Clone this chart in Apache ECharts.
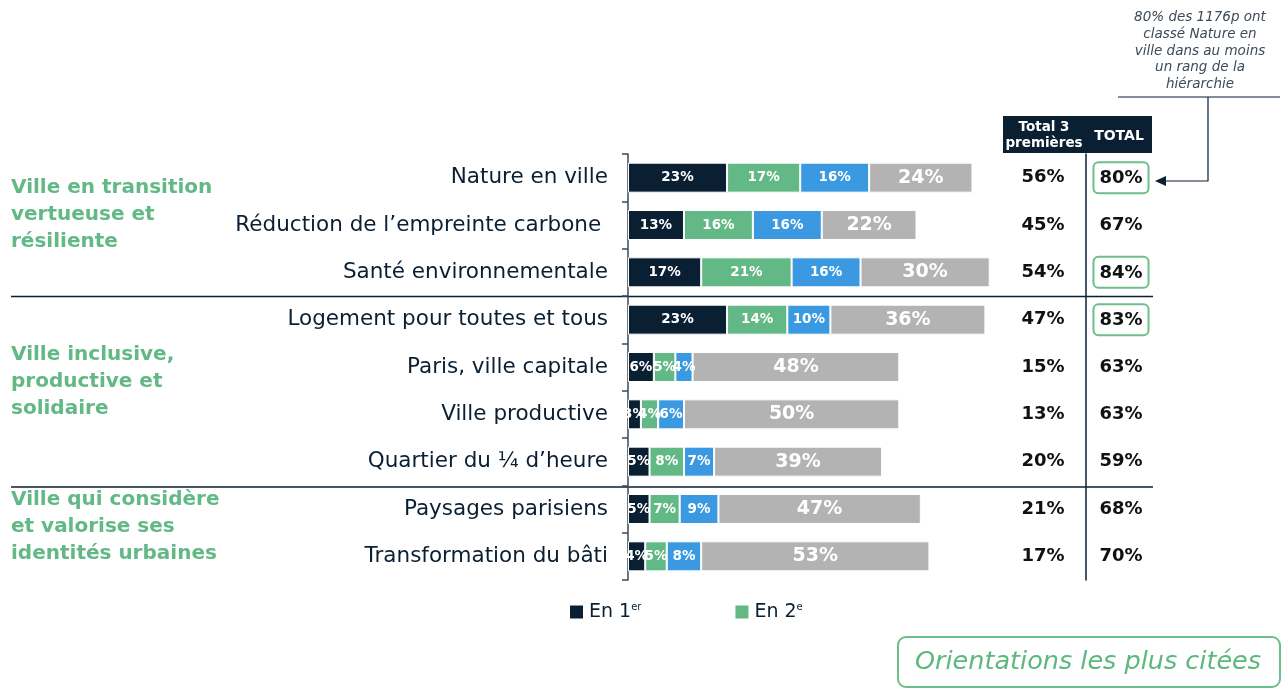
<!DOCTYPE html>
<html>
<head>
<meta charset="UTF-8">
<title>Orientations les plus citées</title>
<script src="https://cdn.jsdelivr.net/npm/echarts@6/dist/echarts.min.js"></script>
<style>
  html, body { margin: 0; padding: 0; background: #fff; }
  #main { width: 1283px; height: 690px; }
</style>
</head>
<body>
<div id="main"></div>
<script type="text/javascript">
// données
var categories = ['Nature en ville', 'Réduction de l’empreinte carbone ', 'Santé environnementale',
  'Logement pour toutes et tous', 'Paris, ville capitale', 'Ville productive',
  'Quartier du ¼ d’heure', 'Paysages parisiens', 'Transformation du bâti'];
var en1 = [23, 13, 17, 23, 6, 3, 5, 5, 4];
var en2 = [17, 16, 21, 14, 5, 4, 8, 7, 5];
var en3 = [16, 16, 16, 10, 4, 6, 7, 9, 8];
var autreRang = [24, 22, 30, 36, 48, 50, 39, 47, 53];
var total3 = [56, 45, 54, 47, 15, 13, 20, 21, 17];
var totalAll = [80, 67, 84, 83, 63, 63, 59, 68, 70];
var groupes = ['Ville en transition\nvertueuse et\nrésiliente', 'Ville inclusive,\nproductive et\nsolidaire', 'Ville qui considère\net valorise ses\nidentités urbaines'];

var NAVY = '#0b1f33', GREEN = '#62b985', BLUE = '#3a99e0', GREY = '#b3b3b3';
var FONT = 'DejaVu Sans';

var myChart = echarts.init(document.getElementById('main'));

function segLabel(size) {
  return {
    show: true, position: 'inside', formatter: '{c}%',
    color: '#fff', fontWeight: 'bold', fontSize: size, fontFamily: FONT
  };
}

var option = {
  animation: false,
  textStyle: { fontFamily: FONT },
  grid: { left: 628, top: 154, width: 366, height: 426 },
  legend: {
    data: ['En 1er', 'En 2e'],
    left: 563, top: 597,
    itemWidth: 15, itemHeight: 15, itemGap: 92,
    icon: 'rect',
    formatter: function (name) {
      return name === 'En 1er' ? '{t|En 1}{s|er}' : '{t|En 2}{s|e}';
    },
    textStyle: {
      rich: {
        t: { fontSize: 19, color: NAVY, fontFamily: FONT },
        s: { fontSize: 10, color: NAVY, fontFamily: FONT, verticalAlign: 'top', padding: [0, 0, 10, 0] }
      }
    }
  },
  xAxis: { type: 'value', min: 0, max: 85, show: false },
  yAxis: [
    {
      type: 'category', data: categories, inverse: true,
      axisLine: { show: true, lineStyle: { color: '#3c4a5a', width: 1.5 } },
      axisTick: { show: true, length: 6, lineStyle: { color: '#3c4a5a', width: 1.5 } },
      axisLabel: { margin: 20, fontSize: 21.5, color: NAVY, fontFamily: FONT }
    },
    {
      type: 'category', data: categories, inverse: true, position: 'right',
      axisLine: { show: false }, axisTick: { show: false },
      axisLabel: {
        margin: 49, align: 'center', fontSize: 18, fontWeight: 'bold', color: '#111', fontFamily: FONT,
        formatter: function (v, i) { return total3[i] + '%'; }
      }
    },
    {
      type: 'category', data: categories, inverse: true, position: 'right',
      axisLine: { show: false }, axisTick: { show: false },
      axisLabel: {
        margin: 127, align: 'center',
        formatter: function (v, i) {
          return totalAll[i] >= 80 ? '{box|' + totalAll[i] + '%}' : '{n|' + totalAll[i] + '%}';
        },
        rich: {
          n: { fontSize: 18, fontWeight: 'bold', color: '#111', fontFamily: FONT },
          box: {
            fontSize: 18, fontWeight: 'bold', color: '#111', fontFamily: FONT,
            borderColor: '#6cbf88', borderWidth: 2, borderRadius: 5,
            padding: [7, 6, 6, 6]
          }
        }
      }
    },
    {
      type: 'category', data: categories, inverse: true, position: 'right', offset: 92,
      axisLine: { show: true, lineStyle: { color: NAVY, width: 1.5 } },
      axisTick: { show: false }, axisLabel: { show: false }
    }
  ],
  series: [
    { name: 'En 1er', type: 'bar', stack: 'rang', barWidth: 30, data: en1,
      itemStyle: { color: NAVY, borderColor: '#fff', borderWidth: 1 }, label: segLabel(13.5) },
    { name: 'En 2e', type: 'bar', stack: 'rang', data: en2,
      itemStyle: { color: GREEN, borderColor: '#fff', borderWidth: 1 }, label: segLabel(13.5) },
    { name: 'En 3e', type: 'bar', stack: 'rang', data: en3,
      itemStyle: { color: BLUE, borderColor: '#fff', borderWidth: 1 }, label: segLabel(13.5) },
    { name: 'Autre rang', type: 'bar', stack: 'rang', data: autreRang,
      itemStyle: { color: GREY, borderColor: '#fff', borderWidth: 1 }, label: segLabel(19) }
  ],
  graphic: [
    // en-tête des colonnes
    { type: 'rect', shape: { x: 1003, y: 116, width: 149, height: 37 }, style: { fill: NAVY } },
    { type: 'text', x: 1044, y: 135, style: { text: 'Total 3\npremières', fill: '#fff', font: 'bold 13.5px "DejaVu Sans"',
        align: 'center', verticalAlign: 'middle', lineHeight: 16 } },
    { type: 'text', x: 1119, y: 136, style: { text: 'TOTAL', fill: '#fff', font: 'bold 14px "DejaVu Sans"',
        align: 'center', verticalAlign: 'middle' } },
    // séparateurs de groupes
    { type: 'line', shape: { x1: 11, y1: 296.5, x2: 1153, y2: 296.5 }, style: { stroke: NAVY, lineWidth: 1.5 } },
    { type: 'line', shape: { x1: 11, y1: 487, x2: 1153, y2: 487 }, style: { stroke: NAVY, lineWidth: 1.5 } },
    // groupes
    { type: 'text', left: 11, top: 174, style: { text: groupes[0], fill: GREEN, font: 'bold 20px "DejaVu Sans"', lineHeight: 27 } },
    { type: 'text', left: 11, top: 341, style: { text: groupes[1], fill: GREEN, font: 'bold 20px "DejaVu Sans"', lineHeight: 27 } },
    { type: 'text', left: 11, top: 486, style: { text: groupes[2], fill: GREEN, font: 'bold 20px "DejaVu Sans"', lineHeight: 27 } },
    // annotation
    { type: 'text', x: 1200, y: 9, style: { text: '80% des 1176p ont\nclassé Nature en\nville dans au moins\nun rang de la\nhiérarchie',
        fill: '#3d4a57', font: 'italic 13.5px "DejaVu Sans"', align: 'center', lineHeight: 16.8 } },
    { type: 'line', shape: { x1: 1118, y1: 97, x2: 1280, y2: 97 }, style: { stroke: NAVY, lineWidth: 1.2 } },
    { type: 'polyline', shape: { points: [[1208, 97], [1208, 181], [1164, 181]] }, style: { stroke: NAVY, lineWidth: 1.2, fill: null } },
    { type: 'polygon', shape: { points: [[1155, 181], [1166, 176], [1166, 186]] }, style: { fill: NAVY } },
    // encadré
    { type: 'rect', shape: { x: 898, y: 637, width: 382, height: 50, r: 8 }, style: { fill: '#fff', stroke: '#6cbf88', lineWidth: 2 } },
    { type: 'text', x: 1088, y: 662, style: { text: 'Orientations les plus citées', fill: '#5cb87f',
        font: 'italic 25.5px "DejaVu Sans"', align: 'center', verticalAlign: 'middle' } }
  ]
};

myChart.setOption(option);
</script>
</body>
</html>
